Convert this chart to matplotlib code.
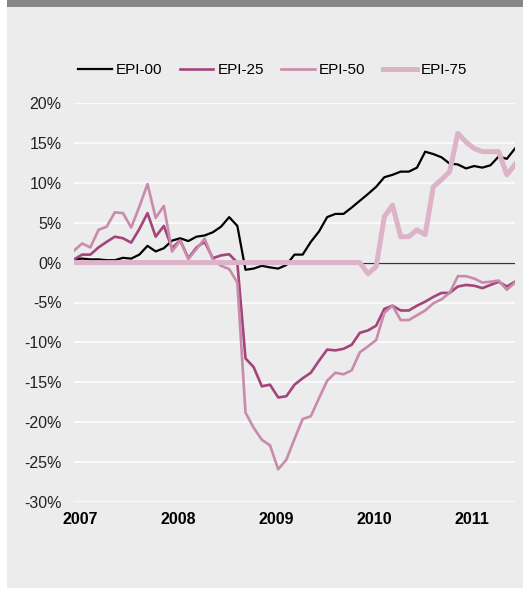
import matplotlib
matplotlib.use("Agg")
import matplotlib.pyplot as plt
from matplotlib.patches import Rectangle
from matplotlib.ticker import FuncFormatter

### Monthly values, Jan 2007 .. Jul 2011 (percent)

EPI_00 = [0.4, 0.5, 0.4, 0.4, 0.3, 0.3, 0.6, 0.5, 1.0, 2.1,
          1.4, 1.8, 2.75, 3.05, 2.7, 3.25, 3.4, 3.8, 4.5, 5.7,
          4.6, -0.9, -0.75, -0.4, -0.6, -0.75, -0.3, 1.0, 1.0, 2.6,
          3.9, 5.7, 6.1, 6.1, 6.9, 7.75, 8.6, 9.5, 10.7, 11.0,
          11.4, 11.4, 11.9, 13.9, 13.6, 13.2, 12.4, 12.3, 11.8, 12.1,
          11.9, 12.2, 13.3, 13.0, 14.3]

EPI_25 = [0.4, 1.0, 1.0, 1.9, 2.6, 3.25, 3.05, 2.5, 4.2, 6.2,
          3.25, 4.6, 1.8, 2.8, 0.55, 1.9, 2.6, 0.55, 0.9, 1.05,
          0.0, -12.0, -13.1, -15.5, -15.3, -16.9, -16.75, -15.3, -14.5, -13.8,
          -12.3, -10.9, -11.0, -10.8, -10.3, -8.8, -8.5, -7.9, -5.8, -5.4,
          -6.0, -6.0, -5.4, -4.9, -4.3, -3.8, -3.8, -3.0, -2.8, -2.9,
          -3.2, -2.8, -2.4, -3.0, -2.4]

EPI_50 = [1.5, 2.4, 1.9, 4.1, 4.5, 6.3, 6.2, 4.4, 7.0, 9.85,
          5.6, 7.1, 1.4, 2.75, 0.45, 1.7, 3.0, 0.4, -0.4, -0.8,
          -2.5, -18.8, -20.7, -22.2, -22.9, -25.9, -24.7, -22.1, -19.6, -19.25,
          -17.0, -14.8, -13.8, -14.0, -13.5, -11.25, -10.5, -9.7, -6.3, -5.4,
          -7.2, -7.2, -6.6, -6.0, -5.1, -4.6, -3.8, -1.7, -1.7, -2.0,
          -2.5, -2.4, -2.25, -3.4, -2.5]

EPI_75 = [0.0] * 36 + [-1.4, -0.5, 5.75, 7.2, 3.25, 3.25, 4.1, 3.5, 9.5, 10.4,
                       11.4, 16.2, 15.1, 14.3, 13.9, 13.9, 13.9, 11.0, 12.3]

YEARS = ["2007", "2008", "2009", "2010", "2011"]
Y_TICKS = [20, 15, 10, 5, 0, -5, -10, -15, -20, -25, -30]

###

PANEL = "#ebeceb"
FONT = "Liberation Sans"

fig = plt.figure(figsize=(5.23, 5.89), dpi=100)
fig.patch.set_facecolor("white")

#	grey background panel and the dark strip on top (behind the axes)
W, H = 523.0, 589.0
fig.patches.append(Rectangle((7 / W, 1 / H), 1 - 7 / W, 1 - 8 / H,
                             transform=fig.transFigure, facecolor=PANEL,
                             edgecolor="none", zorder=-2))
fig.patches.append(Rectangle((7 / W, 1 - 7 / H), 1 - 7 / W, 7 / H,
                             transform=fig.transFigure, facecolor="#878787",
                             edgecolor="none", zorder=-2))

ax = fig.add_axes([74 / W, 87 / H, 441 / W, 399 / H])
ax.set_facecolor("none")
for s in ax.spines.values():
    s.set_visible(False)

months = range(len(EPI_00))
ax.axhline(0, color="#333333", lw=0.9, zorder=2)
ax.plot(months, EPI_00, color="black", lw=1.6, label="EPI-00", zorder=3)
ax.plot(months, EPI_25, color="#a3457a", lw=1.9, label="EPI-25", zorder=4)
ax.plot(months, EPI_50, color="#c98aab", lw=1.9, label="EPI-50", zorder=5)
ax.plot(months, EPI_75, color="#dcb3c7", lw=3.6, label="EPI-75", zorder=6)

ax.set_xlim(0, len(EPI_00) - 1)
ax.set_ylim(-30, 20)

ax.set_yticks(Y_TICKS)
ax.yaxis.set_major_formatter(FuncFormatter(lambda v, p: "%d%%" % v))
ax.grid(axis="y", color="white", lw=1.1, zorder=1)
ax.set_axisbelow(True)
ax.set_xticks([12 * k + 0.75 for k in range(len(YEARS))])
ax.set_xticklabels(YEARS, fontfamily=FONT, fontweight="bold", fontsize=11.5)
ax.tick_params(axis="x", length=0, pad=7.5)
ax.tick_params(axis="y", length=0, pad=9, labelsize=11.5)
for t in ax.get_yticklabels():
    t.set_fontfamily(FONT)
    t.set_color("#222222")

leg = fig.legend(loc="center", bbox_to_anchor=(0.521, 0.881), ncol=4,
                 frameon=False, handlelength=2.2, handletextpad=0.26,
                 columnspacing=1.15, prop={"family": FONT, "size": 11})

fig.savefig("out.png", dpi=100, facecolor=fig.get_facecolor())
